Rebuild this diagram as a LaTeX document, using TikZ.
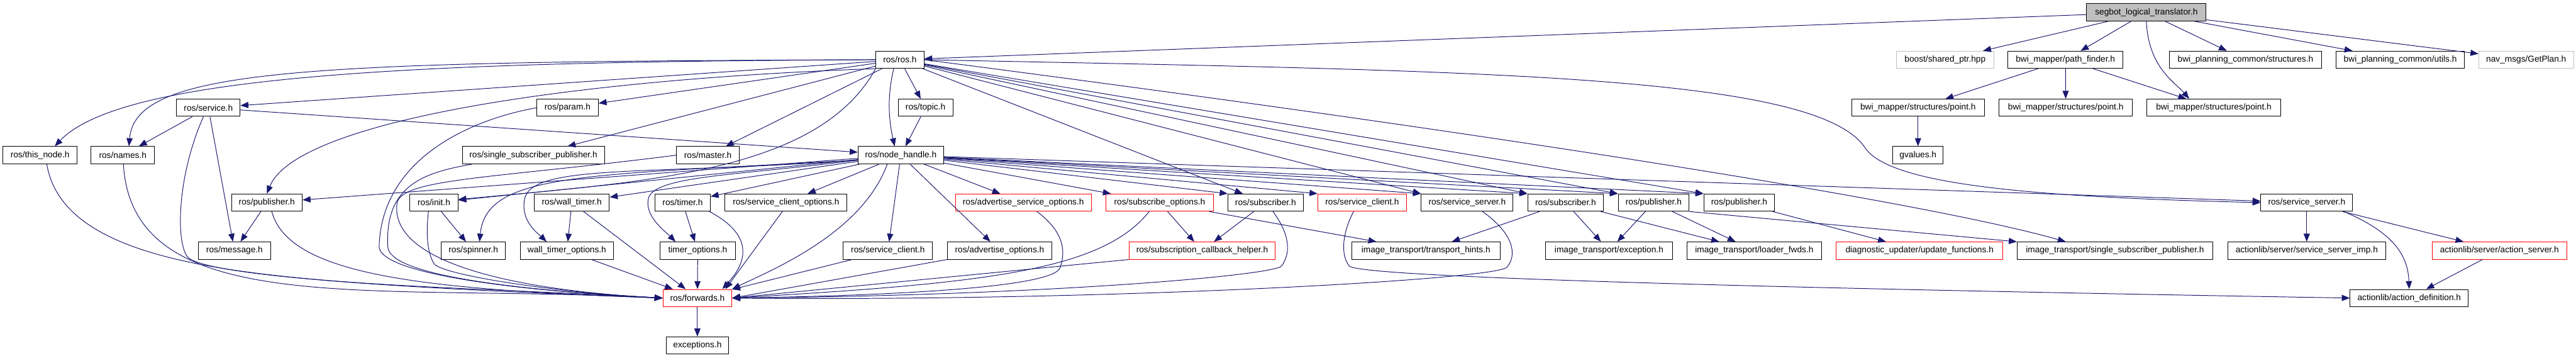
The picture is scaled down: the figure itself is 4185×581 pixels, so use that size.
\documentclass[tikz,border=0pt]{standalone}
\usepackage{fontspec}
\setmainfont{Liberation Sans}
\usetikzlibrary{arrows.meta}
\definecolor{edgeblue}{HTML}{191970}
\definecolor{docgray}{HTML}{BFBFBF}
\tikzset{
    file/.style={draw=black, fill=white, line width=1pt, minimum height=28pt, inner sep=0pt, font=\fontsize{14}{16}\selectfont},
    trunc/.style={file, draw=red},
    nodoc/.style={file, draw=docgray},
    inc/.style={->, draw=edgeblue, line width=1pt},
}
\begin{document}
\begin{tikzpicture}[x=1pt, y=-1pt, >={Triangle[length=13pt,width=10pt]}]
    \useasboundingbox (0,0) rectangle (4185,581);
    \node[file, fill=docgray, minimum width=194pt] (segbot) at (3487,20) {segbot\_logical\_translator.h};
    \node[file, minimum width=78pt] (ros) at (1462,97) {ros/ros.h};
    \node[nodoc, minimum width=158pt] (boost) at (3160,97) {boost/shared\_ptr.hpp};
    \node[file, minimum width=187pt] (pathfinder) at (3355.5,97) {bwi\_mapper/path\_finder.h};
    \node[file, minimum width=248pt] (pcstruct) at (3648,97) {bwi\_planning\_common/structures.h};
    \node[file, minimum width=209pt] (pcutils) at (3899.5,97) {bwi\_planning\_common/utils.h};
    \node[nodoc, minimum width=154pt] (getplan) at (4104,97) {nav\_msgs/GetPlan.h};
    \node[file, minimum width=103pt] (service) at (338.5,175) {ros/service.h};
    \node[file, minimum width=100pt] (param) at (922,175) {ros/param.h};
    \node[file, minimum width=89pt] (topic) at (1503.5,175) {ros/topic.h};
    \node[file, minimum width=216pt] (pointA) at (3116,175) {bwi\_mapper/structures/point.h};
    \node[file, minimum width=216pt] (pointB) at (3356,175) {bwi\_mapper/structures/point.h};
    \node[file, minimum width=217pt] (pointC) at (3596.5,175) {bwi\_mapper/structures/point.h};
    \node[file, minimum width=120pt] (thisnode) at (65,252) {ros/this\_node.h};
    \node[file, minimum width=103pt] (names) at (199.5,252) {ros/names.h};
    \node[file, minimum width=231pt] (ssp) at (866.5,252) {ros/single\_subscriber\_publisher.h};
    \node[file, minimum width=102pt] (master) at (1150,252) {ros/master.h};
    \node[file, minimum width=139pt] (nh) at (1463.5,252) {ros/node\_handle.h};
    \node[file, minimum width=82pt] (gvalues) at (3116,252) {gvalues.h};
    \node[file, minimum width=115pt] (pubA) at (433.5,329) {ros/publisher.h};
    \node[file, minimum width=78pt] (init) at (705,329) {ros/init.h};
    \node[file, minimum width=122pt] (walltimer) at (929,329) {ros/wall\_timer.h};
    \node[file, minimum width=90pt] (timer) at (1109,329) {ros/timer.h};
    \node[file, minimum width=198pt] (sco) at (1277,329) {ros/service\_client\_options.h};
    \node[trunc, minimum width=221pt] (aso) at (1662.5,329) {ros/advertise\_service\_options.h};
    \node[trunc, minimum width=174pt] (subopt) at (1884,329) {ros/subscribe\_options.h};
    \node[file, minimum width=122pt] (subA) at (2056,329) {ros/subscriber.h};
    \node[trunc, minimum width=144pt] (sclB) at (2213,329) {ros/service\_client.h};
    \node[file, minimum width=149pt] (ssrvA) at (2383.5,329) {ros/service\_server.h};
    \node[file, minimum width=123pt] (subB) at (2543.5,329) {ros/subscriber.h};
    \node[file, minimum width=115pt] (pubB) at (2686.5,329) {ros/publisher.h};
    \node[file, minimum width=115pt] (pubC) at (2825.5,329) {ros/publisher.h};
    \node[file, minimum width=149pt] (ssrvB) at (3747.5,329) {ros/service\_server.h};
    \node[file, minimum width=118pt] (message) at (381,407) {ros/message.h};
    \node[file, minimum width=104pt] (spinner) at (769,407) {ros/spinner.h};
    \node[file, minimum width=152pt] (wto) at (921,407) {wall\_timer\_options.h};
    \node[file, minimum width=123pt] (tmo) at (1133.5,407) {timer\_options.h};
    \node[file, minimum width=145pt] (sclA) at (1442.5,407) {ros/service\_client.h};
    \node[file, minimum width=170pt] (ao) at (1624,407) {ros/advertise\_options.h};
    \node[trunc, minimum width=238pt] (sch) at (1953,407) {ros/subscription\_callback\_helper.h};
    \node[file, minimum width=241pt] (hints) at (2316.5,407) {image\_transport/transport\_hints.h};
    \node[file, minimum width=206pt] (exc) at (2614,407) {image\_transport/exception.h};
    \node[file, minimum width=218pt] (loader) at (2850,407) {image\_transport/loader\_fwds.h};
    \node[trunc, minimum width=271pt] (diag) at (3118.5,407) {diagnostic\_updater/update\_functions.h};
    \node[file, minimum width=318pt] (itssp) at (3436,407) {image\_transport/single\_subscriber\_publisher.h};
    \node[file, minimum width=257pt] (ssimp) at (3747.5,407) {actionlib/server/service\_server\_imp.h};
    \node[trunc, minimum width=219pt] (asrv) at (4060.5,407) {actionlib/server/action\_server.h};
    \node[trunc, minimum width=112pt] (fwd) at (1133,484) {ros/forwards.h};
    \node[file, minimum width=192pt] (actdef) at (3914,484) {actionlib/action\_definition.h};
    \node[file, minimum width=102pt] (exceptions) at (1133,561) {exceptions.h};

    \draw[inc] (segbot) -- (ros);
    \draw[inc] (segbot) -- (boost);
    \draw[inc] (segbot) -- (pathfinder);
    \draw[inc] (segbot.south) .. controls (3490,110) and (3535,135) .. ([xshift=-40pt]pointC.north);
    \draw[inc] (segbot) -- (pcstruct);
    \draw[inc] (segbot) -- (pcutils);
    \draw[inc] (segbot) -- (getplan);
    \foreach \p in {pointA,pointB,pointC}
    {
        \draw[inc] (pathfinder) -- (\p);
    }
    \draw[inc] (pointA) -- (gvalues);

    \draw[inc] (ros.west) .. controls (700,100) and (200,120) .. ([xshift=24pt]thisnode.north);
    \draw[inc] (ros.west) .. controls (500,100) and (220,110) .. ([xshift=10pt]names.north);
    \draw[inc] (ros) -- (service);
    \draw[inc] (ros) -- (param);
    \draw[inc] (ros) -- (ssp);
    \draw[inc] (ros) -- (master);
    \draw[inc] (ros.south west) .. controls (900,130) and (480,200) .. (pubA.north);
    \draw[inc] (ros.south west) .. controls (1330,280) and (1050,295) .. ([yshift=5pt]init.east);
    \draw[inc] (ros) -- (topic);
    \draw[inc] ([xshift=-10pt]ros.south) .. controls (1440,160) and (1445,200) .. ([xshift=-10pt]nh.north);
    \draw[inc] (topic) -- (nh);
    \draw[inc] (ros) -- (subA);
    \foreach \t in {ssrvA,subB,pubB,pubC}
    {
        \draw[inc] (ros) -- (\t.north west);
        \draw[inc] (nh) -- (\t.north west);
    }
    \draw[inc] (ros.east) .. controls (2300,200) and (3100,320) .. ([xshift=-80pt]itssp.north);
    \coordinate (dip) at (3030,240);
    \draw[inc] (ros.east) .. controls (2400,115) and (2950,120) .. (dip) .. controls (3070,300) and (3300,320) .. (ssrvB.west);

    \draw[inc] (service) -- (nh);
    \draw[inc] (service) -- (names);
    \draw[inc] (service) -- (message);
    \coordinate (servicebend) at (303,415);
    \draw[inc] ([xshift=-8pt]service.south) .. controls (290,280) and (285,385) .. (servicebend) .. controls (320,450) and (700,470) .. (fwd.west);
    \draw[inc] ([xshift=11pt]thisnode.south) .. controls (110,470) and (560,455) .. (fwd.west);
    \draw[inc] ([xshift=1pt]names.south) .. controls (215,520) and (600,460) .. (fwd.west);
    \draw[inc] (pubA) -- (message);
    \draw[inc] ([xshift=8pt]pubA.south) .. controls (470,450) and (700,470) .. (fwd.west);
    \coordinate (parambend) at (616,400);
    \draw[inc] (param.west) .. controls (760,195) and (620,260) .. (parambend) .. controls (615,440) and (800,470) .. (fwd.west);
    \coordinate (sspbend) at (630,400);
    \draw[inc] ([xshift=17pt]ssp.south west) .. controls (690,280) and (625,300) .. (sspbend) .. controls (630,445) and (820,470) .. (fwd.west);
    \coordinate (masterbend) at (645,330);
    \draw[inc] (master.west) .. controls (800,290) and (652,290) .. (masterbend) .. controls (632,430) and (850,472) .. (fwd.west);
    \coordinate (initbend) at (705,428);
    \draw[inc] ([xshift=-9pt]init.south) .. controls (692,380) and (694,410) .. (initbend) .. controls (716,446) and (900,475) .. (fwd.west);
    \draw[inc] (init) -- (spinner);
    \draw[inc] (walltimer) -- (wto);
    \draw[inc] (walltimer) -- (fwd);
    \draw[inc] (wto) -- (fwd);
    \draw[inc] (timer) -- (tmo);
    \draw[inc] ([xshift=-2pt]timer.south east) .. controls (1240,390) and (1200,440) .. ([xshift=-16pt]fwd.north east);
    \draw[inc] (tmo) -- (fwd);
    \draw[inc] ([xshift=-6pt]sco.south) -- ([xshift=-11pt]fwd.north east);

    \draw[inc] (nh) -- (pubA);
    \draw[inc] (nh) -- (init);
    \draw[inc] ([yshift=-8pt]nh.west) .. controls (950,285) and (790,280) .. ([xshift=10pt]spinner.north);
    \draw[inc] (nh) -- (walltimer);
    \coordinate (wtobend) at (852,325);
    \draw[inc] ([yshift=-8pt]nh.west) .. controls (1050,285) and (860,265) .. (wtobend) .. controls (846,360) and (875,380) .. ([xshift=-33pt]wto.north);
    \draw[inc] (nh) -- (timer);
    \coordinate (tmobend) at (1054,320);
    \draw[inc] ([yshift=-8pt]nh.west) .. controls (1200,285) and (1070,285) .. (tmobend) .. controls (1045,350) and (1080,375) .. ([xshift=-36pt]tmo.north);
    \draw[inc] (nh) -- (sco);
    \draw[inc] (nh) -- (sclA);
    \draw[inc] (nh) -- (ao);
    \draw[inc] (nh) -- (aso);
    \draw[inc] (nh) -- (subopt);
    \draw[inc] (nh) -- (subA.north west);
    \draw[inc] (nh) -- (sclB.north west);
    \draw[inc] (nh) -- (ssrvB);
    \draw[inc] ([xshift=-22pt]nh.south) .. controls (1400,380) and (1250,440) .. (fwd.north east);

    \draw[inc] (sclA) -- (fwd);
    \draw[inc] (ao.south west) -- (fwd.east);
    \draw[inc] (sch.south west) -- (fwd.east);
    \coordinate (asobend) at (1722,435);
    \draw[inc] ([xshift=22pt]aso.south) .. controls (1720,370) and (1735,400) .. (asobend) .. controls (1710,467) and (1450,480) .. (fwd.east);
    \draw[inc] ([xshift=-17pt]subopt.south) .. controls (1790,440) and (1600,460) .. (fwd.east);
    \draw[inc] (subopt) -- (sch);
    \draw[inc] (subopt) -- (hints);
    \draw[inc] (subA) -- (sch);
    \coordinate (subbend) at (2082,432);
    \draw[inc] ([xshift=12pt]subA.south) .. controls (2095,380) and (2098,410) .. (subbend) .. controls (2070,447) and (1700,480) .. (fwd.east);
    \coordinate (ssrvbend) at (2448,434);
    \draw[inc] ([xshift=25pt]ssrvA.south) .. controls (2460,380) and (2465,415) .. (ssrvbend) .. controls (2430,454) and (1800,490) .. (fwd.east);
    \coordinate (sclbend) at (2192,432);
    \draw[inc] ([xshift=-14pt]sclB.south) .. controls (2180,380) and (2178,415) .. (sclbend) .. controls (2210,452) and (3000,470) .. (actdef.west);
    \draw[inc] (subB) -- (hints);
    \draw[inc] (subB) -- (exc);
    \draw[inc] (subB) -- (loader);
    \draw[inc] (pubB) -- (exc);
    \draw[inc] (pubB) -- (loader);
    \draw[inc] (pubB.south east) -- (itssp.north west);
    \draw[inc] (pubC) -- (diag);
    \draw[inc] (ssrvB) -- (ssimp);
    \draw[inc] (ssrvB) -- (asrv);
    \draw[inc] ([xshift=-15pt]ssrvB.south east) .. controls (3895,380) and (3912,420) .. (actdef.north);
    \draw[inc] (asrv) -- (actdef);
    \draw[inc] (fwd) -- (exceptions);
\end{tikzpicture}
\end{document}
